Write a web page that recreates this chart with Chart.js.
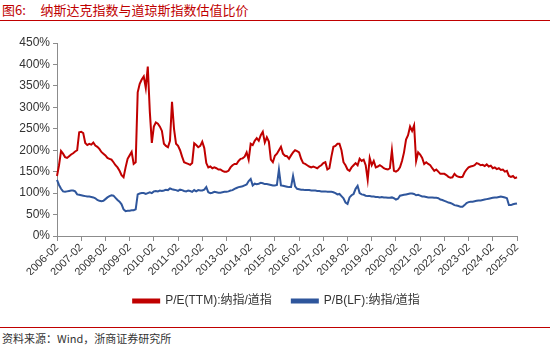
<!DOCTYPE html>
<html><head><meta charset="utf-8">
<script src="https://cdn.jsdelivr.net/npm/chart.js@4/dist/chart.umd.min.js"></script>
<style>
html,body{margin:0;padding:0;background:#fff;width:550px;height:348px;overflow:hidden;position:relative;font-family:"Liberation Sans","Noto Sans CJK SC",sans-serif;}
#title{position:absolute;left:2px;top:2px;font-size:13px;color:#c00000;font-family:"Noto Sans CJK SC",sans-serif;white-space:pre;line-height:16px;}
#tline{position:absolute;left:0;top:20px;width:550px;height:1px;background:#c00000;}
#bline{position:absolute;left:0;top:327px;width:550px;height:1px;background:#c00000;}
#src{position:absolute;left:2px;top:332px;font-size:11px;color:#333;font-family:"Noto Sans CJK SC",sans-serif;line-height:13px;}
canvas{position:absolute;left:0;top:0;}
</style></head><body>
<div id="title">图6:     纳斯达克指数与道琼斯指数估值比价</div>
<div id="tline"></div>
<canvas id="c" width="550" height="320"></canvas>
<div id="bline"></div>
<div id="src">资料来源：Wind，浙商证券研究所</div>
<script>
const startYear = 2006, startMonth = 2, endYear = 2025, endMonth = 2;
const labels = [];
for (let y = startYear, m = startMonth; y < endYear || (y === endYear && m <= endMonth); ) {
  labels.push(y + '-' + String(m).padStart(2, '0'));
  m++; if (m > 12) { m = 1; y++; }
}
const seriesNames = ['P/E(TTM):纳指/道指', 'P/B(LF):纳指/道指'];
const peRatio = [
140,165,198,192,184,182,186,190,193,197,200,242,
243,240,217,212,215,213,218,211,208,203,196,192,
188,182,180,178,172,165,160,152,142,137,160,180,
188,196,168,172,335,355,365,372,345,395,290,217,
255,265,262,255,245,215,210,207,222,313,250,215,
210,200,185,172,170,168,166,170,216,212,207,210,
220,205,170,160,162,158,160,158,155,155,152,150,
150,152,160,165,168,168,175,180,181,185,195,178,
215,212,222,228,222,235,243,218,230,220,178,172,
187,192,200,208,192,187,186,180,188,195,200,198,
195,180,170,168,165,162,160,162,160,158,162,165,
170,172,155,158,185,208,210,215,215,200,172,165,
155,152,160,165,170,165,180,175,178,165,131,182,
165,175,160,162,165,162,158,156,155,158,200,152,
150,153,160,175,195,225,235,255,245,258,175,195,
190,182,168,172,168,165,158,152,155,150,145,145,
145,142,138,136,137,145,140,138,137,138,148,155,
160,162,163,165,170,168,165,166,163,167,162,164,
158,160,156,158,154,155,150,152,140,138,140,135,
137];
const pbRatio = [
131,119,110,104,103,104,105,106,106,104,97,96,
95,94,93,92,92,91,90,88,84,82,81,82,
86,90,93,95,94,89,84,80,74,62,58,59,
59,60,60,62,97,99,100,100,98,100,102,100,
104,105,104,106,105,106,108,107,111,109,108,107,
105,108,107,105,104,106,105,103,107,104,107,106,
106,108,114,102,100,101,103,102,101,101,102,103,
103,104,106,107,110,112,114,115,116,118,120,128,
133,118,122,121,122,124,123,121,121,120,119,118,
118,119,155,118,117,116,115,114,114,140,116,110,
109,108,108,107,107,107,106,106,106,105,105,104,
104,104,103,103,103,102,100,97,98,93,88,78,
75,90,95,98,110,117,100,97,96,94,93,93,
92,92,91,91,90,91,90,90,89,89,90,88,
85,87,94,95,96,97,98,99,99,98,95,96,
94,92,92,91,90,90,90,89,89,88,85,84,
82,80,78,77,75,72,71,70,68,68,72,77,
79,80,80,81,82,83,83,84,85,86,87,88,
89,90,90,91,92,91,90,88,72,72,74,75,
76];
const yTicksMin = 0, yTicksMax = 450, yStep = 50;

const legendShift = {
  id: 'legendShift',
  afterLayout(chart) {
    const l = chart.legend; if (!l) return;
    l.left += 18; l.right += 18;
  }
};

new Chart(document.getElementById('c'), {
  type: 'line',
  data: {
    labels: labels,
    datasets: [
      { label: seriesNames[0], data: peRatio, borderColor: '#c00000', backgroundColor: '#c00000', borderWidth: 2, pointRadius: 0, tension: 0 },
      { label: seriesNames[1], data: pbRatio, borderColor: '#2f569c', backgroundColor: '#2f569c', borderWidth: 2, pointRadius: 0, tension: 0 }
    ]
  },
  options: {
    responsive: false,
    devicePixelRatio: 1,
    animation: false,
    layout: { padding: { top: 43, right: 33, left: 0, bottom: 3 } },
    plugins: {
      legend: {
        position: 'bottom',
        labels: { boxWidth: 26, boxHeight: 3, padding: 20, color: '#333', font: { size: 12, family: '"Liberation Sans","Noto Sans CJK SC",sans-serif' } }
      },
      tooltip: { enabled: false }
    },
    scales: {
      x: {
        type: 'category',
        offset: false,
        afterFit(s) { s.height = 39; },
        border: { display: true, color: '#8c8c8c', width: 1 },
        grid: { display: true, drawOnChartArea: false, drawTicks: true, tickLength: 5, color: '#8c8c8c' },
        ticks: {
          autoSkip: false, maxRotation: 45, minRotation: 45, padding: 0,
          color: '#333', font: { size: 11, family: '"Liberation Sans",sans-serif' },
          callback(v, i) { const l = labels[i]; return l.endsWith('-02') ? l : null; }
        }
      },
      y: {
        min: yTicksMin, max: yTicksMax,
        afterFit(s) { s.width = 57; },
        border: { display: true, color: '#8c8c8c', width: 1 },
        grid: { display: true, drawOnChartArea: false, drawTicks: true, tickLength: 4, color: '#8c8c8c' },
        ticks: { stepSize: yStep, padding: 3, color: '#333', font: { size: 12, family: '"Liberation Sans",sans-serif' }, callback: v => v + '%' }
      }
    }
  },
  plugins: [legendShift]
});
</script>
</body></html>
